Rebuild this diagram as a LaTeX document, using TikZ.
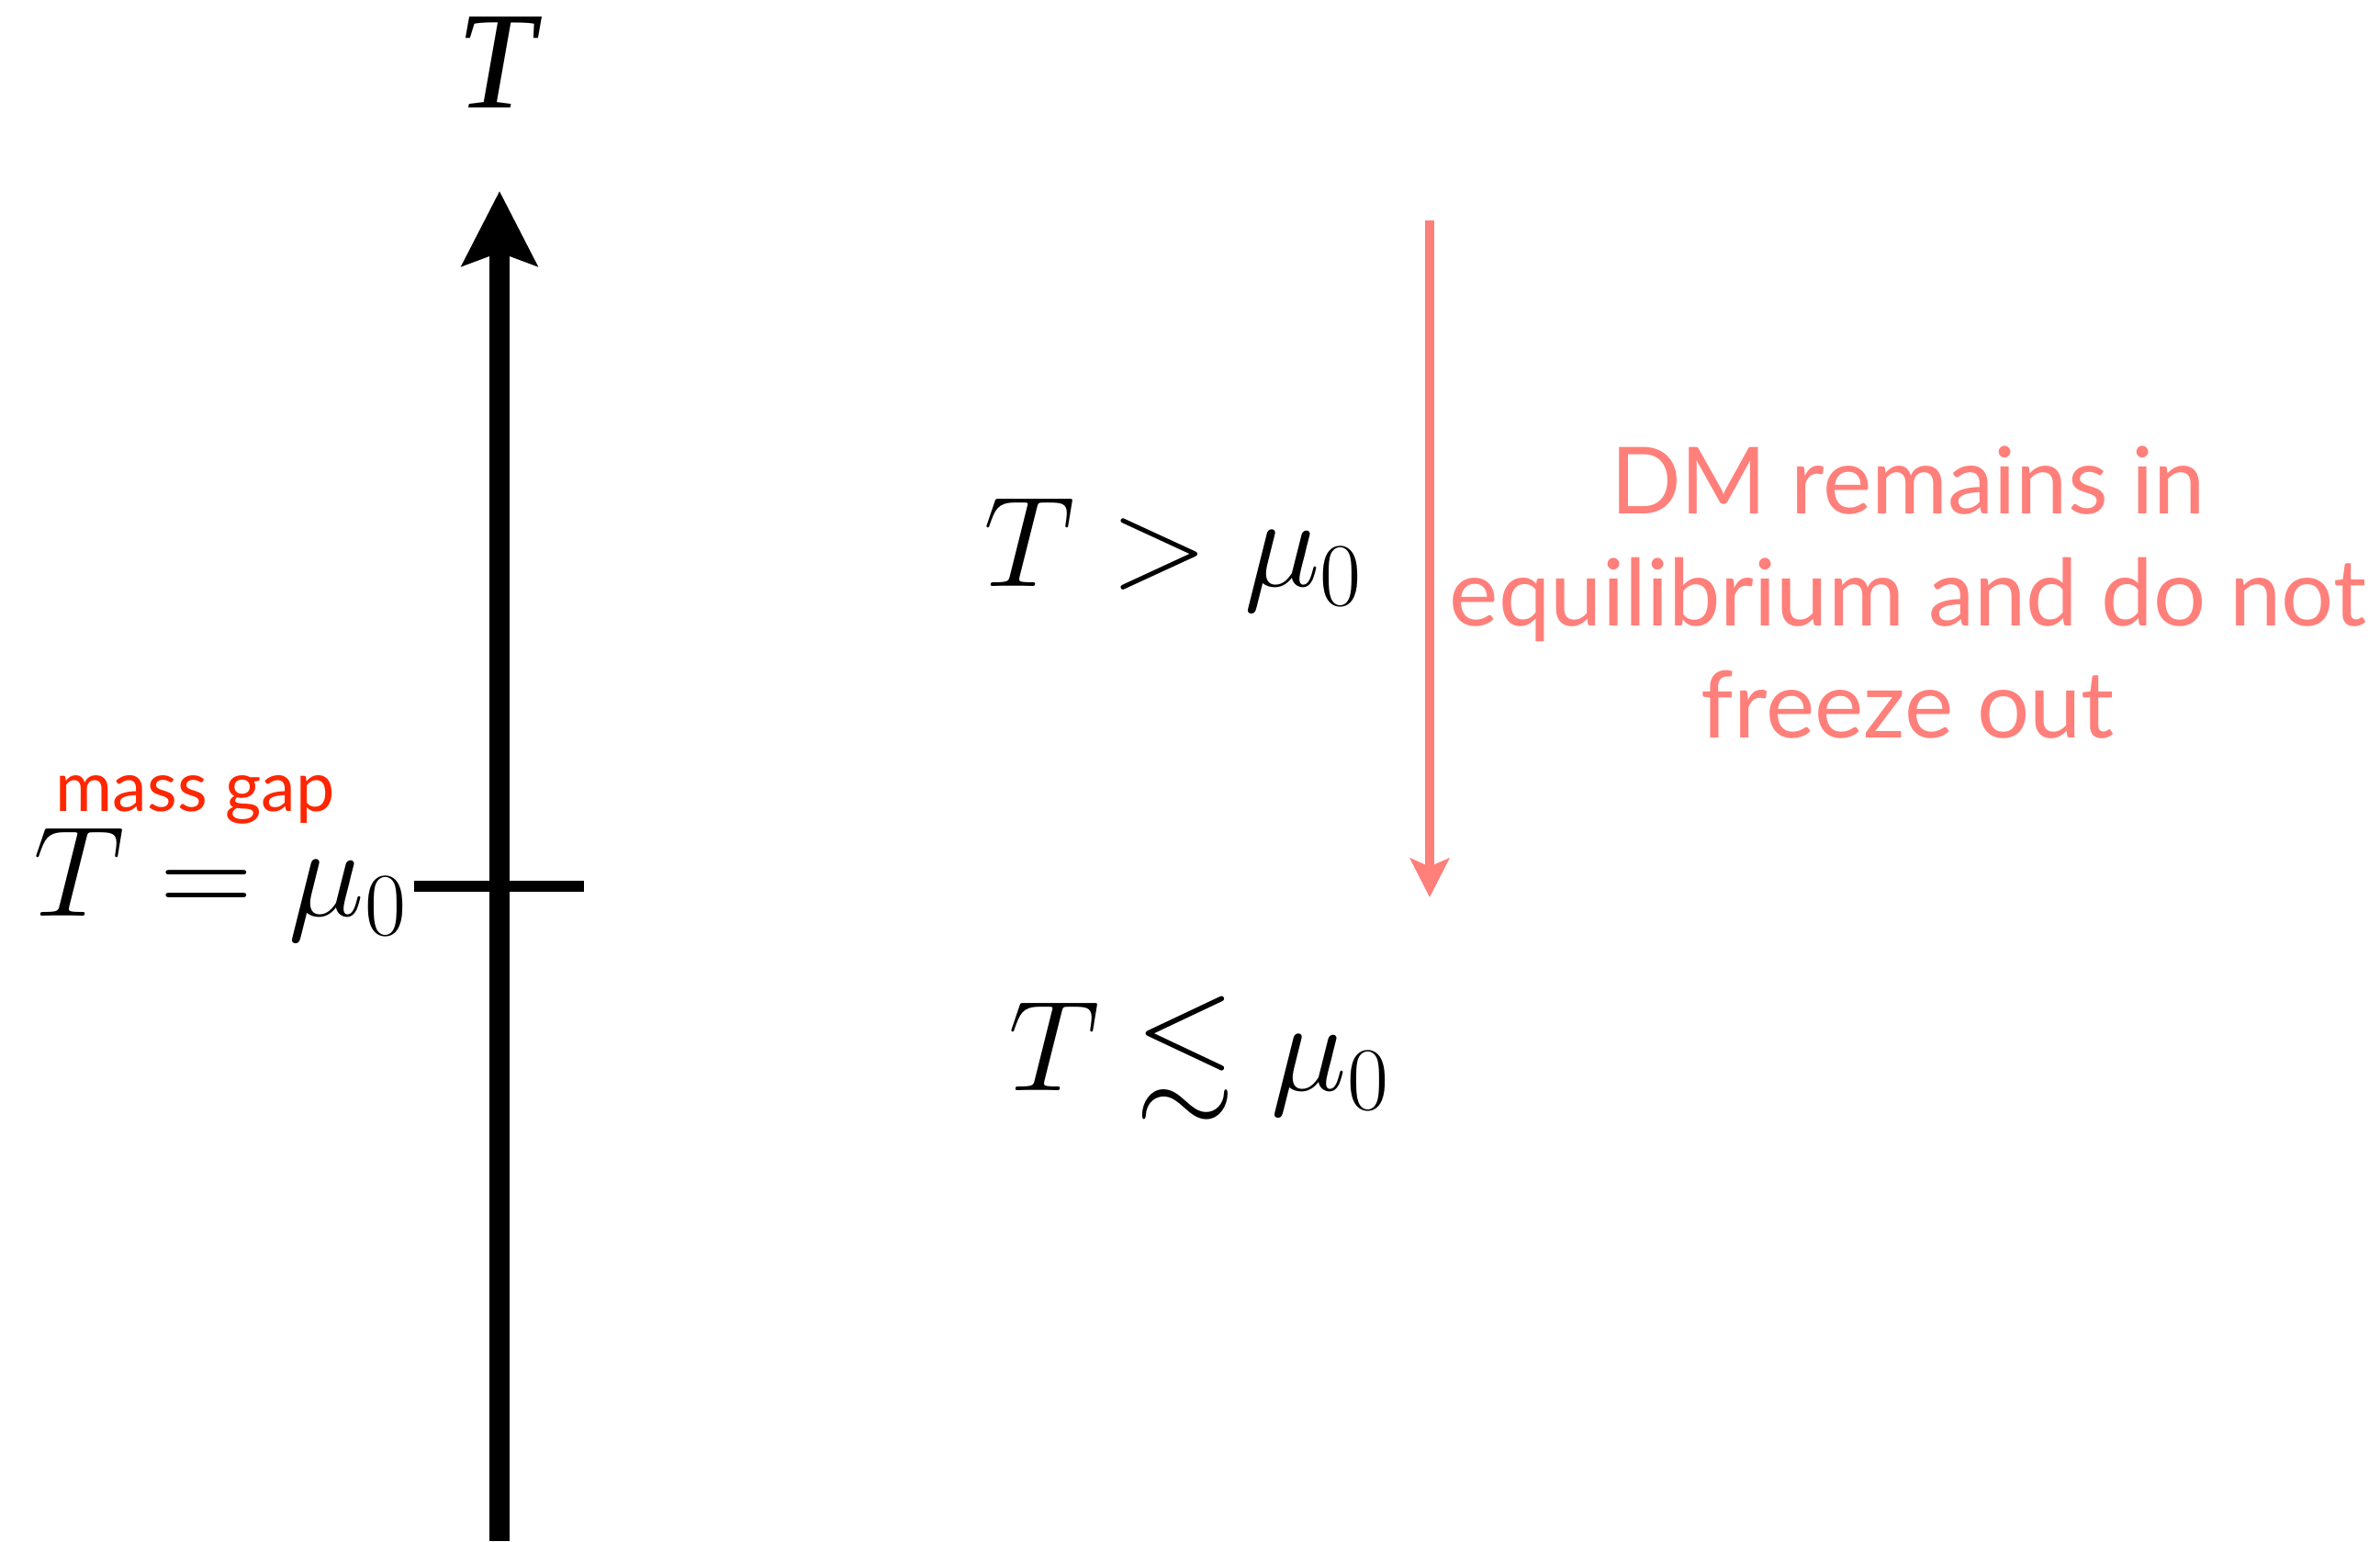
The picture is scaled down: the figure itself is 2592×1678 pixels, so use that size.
\RequirePackage{fix-cm}
\documentclass[tikz,border=0pt]{standalone}
\usepackage{amsmath,amssymb}
\usepackage{fontspec}
\usepackage{tikz}
\usetikzlibrary{arrows.meta,positioning}
\newfontfamily\gillfont{Lato}
\newfontfamily\timesfont{Liberation Serif}
\definecolor{salmon}{HTML}{FF7F7A}
\definecolor{gapred}{HTML}{FF2600}
\tikzset{
  axisl/.style={line width=6pt, draw=black, -{Stealth[length=23pt, width=23pt, inset=4pt]}},
  tickl/.style={line width=3.2pt, draw=black},
  downarr/.style={line width=2.6pt, draw=salmon, -{Stealth[length=12pt, width=12pt, inset=2.5pt]}},
  mlbl/.style={inner sep=0pt, font=\fontsize{39.8}{46}\selectfont},
  note/.style={inner sep=0pt, text=salmon, align=center, font=\gillfont\fontsize{28.7}{34.6}\selectfont},
  gaplbl/.style={inner sep=0pt, text=gapred, font=\gillfont\fontsize{21.5}{26}\selectfont},
}
\begin{document}
\begin{tikzpicture}[x=0.01cm, y=-0.01cm]
  \useasboundingbox (0,0) rectangle (2592,1678);
  % temperature axis
  \coordinate (bot) at (544,1678);
  \coordinate (top) at (544,208);
  \draw[axisl] (bot) -- (top);
  \node[inner sep=0pt, anchor=base, font=\timesfont\itshape\fontsize{43}{50}\selectfont] (tlbl) at (540,117) {T};
  % mass gap tick
  \coordinate (tl) at (451,965);
  \coordinate (tr) at (636,965);
  \draw[tickl] (tl) -- (tr);
  \node[mlbl, anchor=base west] (eq) at (36,997) {$T=\mu_0$};
  \node[gaplbl, anchor=base west] (gap) at (60,883) {mass gap};
  % regimes
  \node[mlbl, anchor=base west] (hi) at (1071,638) {$T>\mu_0$};
  \node[mlbl, anchor=base west] (lo) at (1098,1187) {$T\lesssim\mu_0$};
  \coordinate (as) at (1557,240);
  \coordinate (ae) at (1557,977);
  \draw[downarr] (as) -- (ae);
  \node[note] (dm) at (2078,645) {DM remains in\\equilibrium and do not\\freeze out};
\end{tikzpicture}
\end{document}
